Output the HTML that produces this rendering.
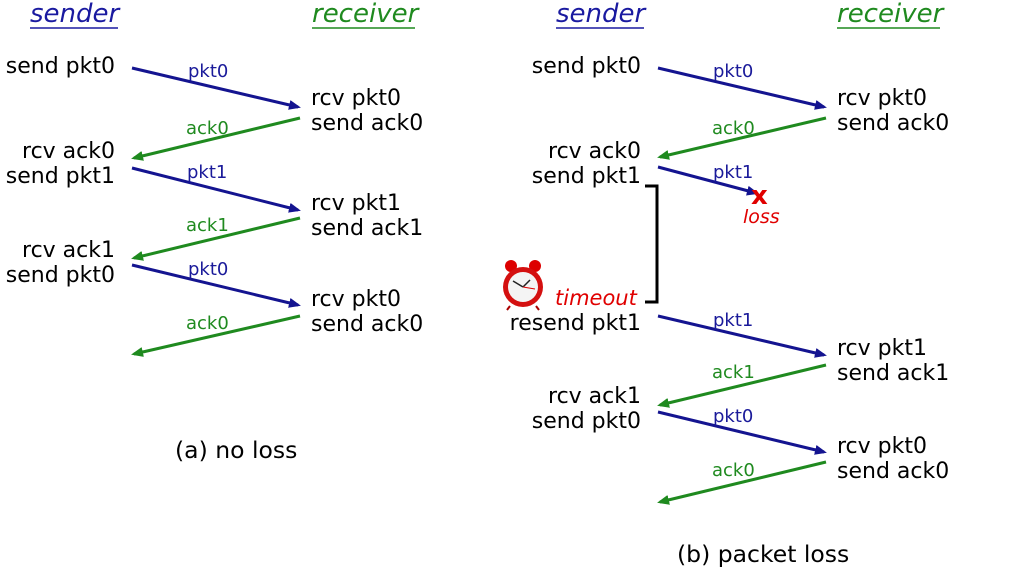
<!DOCTYPE html>
<html><head><meta charset="utf-8"><style>
html,body{margin:0;padding:0;background:#fff;}
svg{display:block;}
text{font-family:"DejaVu Sans","Liberation Sans",sans-serif;}
.m{font-size:22px;fill:#000;}
.l{font-size:18px;}
.b{fill:#1a1a9a;}
.g{fill:#1f8a1f;}
</style></head><body>
<svg width="1013" height="569" viewBox="0 0 1013 569" xmlns="http://www.w3.org/2000/svg">
<defs>
<marker id="ab" markerWidth="12" markerHeight="10" refX="9" refY="5" orient="auto" markerUnits="userSpaceOnUse"><path d="M0,0 L12,5 L0,10 z" fill="#141490"/></marker>
<marker id="ag" markerWidth="12" markerHeight="10" refX="9" refY="5" orient="auto" markerUnits="userSpaceOnUse"><path d="M0,0 L12,5 L0,10 z" fill="#1f8a1f"/></marker>
</defs>
<!-- headers -->
<text x="30" y="22" font-size="26" font-style="italic" fill="#1a1aa0">sender</text>
<line x1="30" y1="28" x2="118" y2="28" stroke="#1a1aa0" stroke-width="1.5"/>
<text x="312" y="22" font-size="26" font-style="italic" fill="#1f8a1f">receiver</text>
<line x1="312" y1="28" x2="415" y2="28" stroke="#1f8a1f" stroke-width="1.5"/>
<text x="556" y="22" font-size="26" font-style="italic" fill="#1a1aa0">sender</text>
<line x1="556" y1="28" x2="644" y2="28" stroke="#1a1aa0" stroke-width="1.5"/>
<text x="837" y="22" font-size="26" font-style="italic" fill="#1f8a1f">receiver</text>
<line x1="837" y1="28" x2="940" y2="28" stroke="#1f8a1f" stroke-width="1.5"/>

<g stroke-width="3" fill="none">
<line x1="132" y1="68" x2="298" y2="107" stroke="#141490" marker-end="url(#ab)"/>
<line x1="300" y1="118" x2="134" y2="158" stroke="#1f8a1f" marker-end="url(#ag)"/>
<line x1="132" y1="168" x2="298" y2="210" stroke="#141490" marker-end="url(#ab)"/>
<line x1="300" y1="218" x2="134" y2="258" stroke="#1f8a1f" marker-end="url(#ag)"/>
<line x1="132" y1="265" x2="298" y2="305" stroke="#141490" marker-end="url(#ab)"/>
<line x1="300" y1="316" x2="134" y2="354" stroke="#1f8a1f" marker-end="url(#ag)"/>
<line x1="658" y1="68" x2="824" y2="107" stroke="#141490" marker-end="url(#ab)"/>
<line x1="826" y1="118" x2="660" y2="157" stroke="#1f8a1f" marker-end="url(#ag)"/>
<line x1="658" y1="167" x2="756" y2="193" stroke="#141490" marker-end="url(#ab)"/>
<line x1="658" y1="316" x2="824" y2="355" stroke="#141490" marker-end="url(#ab)"/>
<line x1="826" y1="365" x2="660" y2="405" stroke="#1f8a1f" marker-end="url(#ag)"/>
<line x1="658" y1="412" x2="824" y2="452" stroke="#141490" marker-end="url(#ab)"/>
<line x1="826" y1="462" x2="660" y2="502" stroke="#1f8a1f" marker-end="url(#ag)"/>
<polyline points="645,186 657,186 657,302 645,302" stroke="#000"/>
</g>

<g class="m">
<text x="115" y="73" text-anchor="end">send pkt0</text>
<text x="311" y="105">rcv pkt0</text>
<text x="311" y="130">send ack0</text>
<text x="115" y="158" text-anchor="end">rcv ack0</text>
<text x="115" y="183" text-anchor="end">send pkt1</text>
<text x="311" y="210">rcv pkt1</text>
<text x="311" y="235">send ack1</text>
<text x="115" y="257" text-anchor="end">rcv ack1</text>
<text x="115" y="282" text-anchor="end">send pkt0</text>
<text x="311" y="306">rcv pkt0</text>
<text x="311" y="331">send ack0</text>
<text x="641" y="73" text-anchor="end">send pkt0</text>
<text x="837" y="105">rcv pkt0</text>
<text x="837" y="130">send ack0</text>
<text x="641" y="158" text-anchor="end">rcv ack0</text>
<text x="641" y="183" text-anchor="end">send pkt1</text>
<text x="641" y="330" text-anchor="end">resend pkt1</text>
<text x="837" y="355">rcv pkt1</text>
<text x="837" y="380">send ack1</text>
<text x="641" y="403" text-anchor="end">rcv ack1</text>
<text x="641" y="428" text-anchor="end">send pkt0</text>
<text x="837" y="453">rcv pkt0</text>
<text x="837" y="478">send ack0</text>
</g>
<text x="175" y="458" font-size="23.5">(a) no loss</text>
<text x="677" y="562" font-size="23.5">(b) packet loss</text>
<g class="l">
<text x="188" y="77" class="b">pkt0</text>
<text x="186" y="134" class="g">ack0</text>
<text x="187" y="178" class="b">pkt1</text>
<text x="186" y="231" class="g">ack1</text>
<text x="188" y="275" class="b">pkt0</text>
<text x="186" y="329" class="g">ack0</text>
<text x="713" y="77" class="b">pkt0</text>
<text x="712" y="134" class="g">ack0</text>
<text x="713" y="178" class="b">pkt1</text>
<text x="713" y="326" class="b">pkt1</text>
<text x="712" y="378" class="g">ack1</text>
<text x="713" y="422" class="b">pkt0</text>
<text x="712" y="476" class="g">ack0</text>
</g>
<text x="751" y="204" font-size="26" font-weight="bold" fill="#e00000">x</text>
<text x="743" y="223" font-size="19" font-style="italic" fill="#e00000">loss</text>
<text x="555" y="305" font-size="21" font-style="italic" fill="#e00000">timeout</text>
<g>
<circle cx="511" cy="266" r="6" fill="#d00"/>
<circle cx="535" cy="266" r="6" fill="#d00"/>
<circle cx="523" cy="287" r="20" fill="#d41010"/>
<circle cx="523" cy="287" r="15" fill="#f4f4f4"/>
<line x1="523" y1="287" x2="513" y2="281" stroke="#222" stroke-width="1.5"/>
<line x1="523" y1="287" x2="530" y2="280" stroke="#222" stroke-width="1.5"/>
<line x1="523" y1="287" x2="535" y2="289" stroke="#d00" stroke-width="1"/>
<line x1="510" y1="306" x2="507" y2="310" stroke="#a00" stroke-width="2"/>
<line x1="536" y1="306" x2="539" y2="310" stroke="#a00" stroke-width="2"/>
</g>
</svg>
</body></html>
